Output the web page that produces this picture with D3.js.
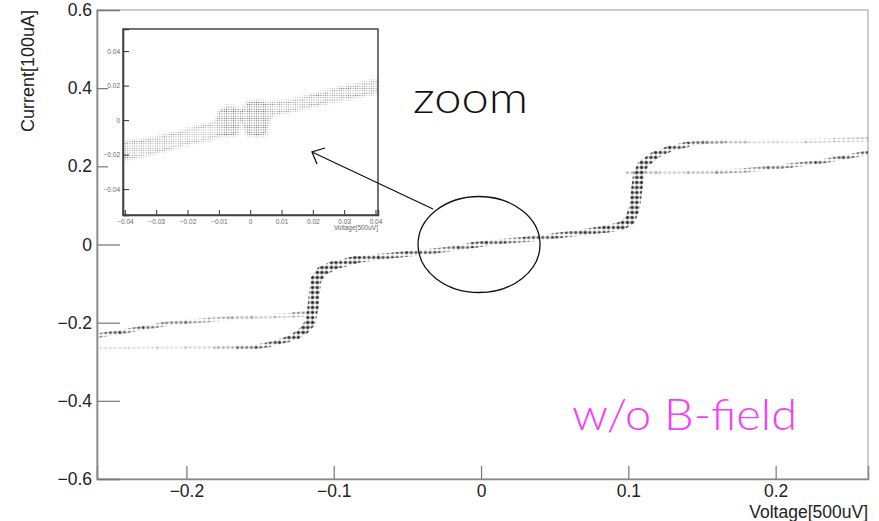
<!DOCTYPE html>
<html>
<head>
<meta charset="utf-8">
<script src="https://cdn.jsdelivr.net/npm/d3@7"></script>
<style>
  body { margin: 0; background: #fff; }
  svg { display: block; font-family: "Liberation Sans", Arial, sans-serif; }
</style>
</head>
<body>
<div id="chart"></div>
<script>
// --- 1. DATA ---
// main plot: each branch is [voltage, current, density, spread(voltage)]
const leftUpper = [
  [-0.2607, -0.233, 0.75, 0.003], [-0.245, -0.224, 0.75, 0.003], [-0.23, -0.214, 0.7, 0.003],
  [-0.215, -0.204, 0.6, 0.003], [-0.2, -0.198, 0.5, 0.003], [-0.185, -0.193, 0.45, 0.003],
  [-0.17, -0.189, 0.35, 0.003], [-0.155, -0.186, 0.25, 0.003], [-0.14, -0.183, 0.2, 0.003],
  [-0.128, -0.18, 0.35, 0.003], [-0.117, -0.177, 0.6, 0.004]
];
const leftLower = [
  [-0.2607, -0.268, 0.15, 0.003], [-0.24, -0.267, 0.15, 0.003], [-0.22, -0.266, 0.12, 0.003],
  [-0.2, -0.265, 0.12, 0.003], [-0.18, -0.265, 0.2, 0.003], [-0.165, -0.264, 0.45, 0.003],
  [-0.153, -0.262, 0.7, 0.003], [-0.145, -0.257, 0.8, 0.0035], [-0.138, -0.25, 0.85, 0.0035],
  [-0.131, -0.242, 0.9, 0.004], [-0.125, -0.232, 0.95, 0.005], [-0.12, -0.218, 1, 0.006],
  [-0.116, -0.2, 1, 0.007]
];
const centreBranch = [
  [-0.116, -0.2, 1, 0.007], [-0.114, -0.16, 1, 0.0075], [-0.113, -0.12, 1, 0.0075],
  [-0.112, -0.09, 1, 0.0075], [-0.108, -0.068, 1, 0.007], [-0.1, -0.054, 0.95, 0.006],
  [-0.085, -0.039, 0.9, 0.005], [-0.07, -0.032, 0.85, 0.004], [-0.05, -0.024, 0.8, 0.004],
  [-0.03, -0.016, 0.75, 0.0035], [-0.015, -0.008, 0.6, 0.0035], [-0.006, -0.002, 0.85, 0.004],
  [0.003, 0.003, 0.85, 0.004], [0.015, 0.008, 0.7, 0.0035], [0.03, 0.013, 0.75, 0.0035],
  [0.05, 0.022, 0.8, 0.004], [0.07, 0.031, 0.85, 0.004], [0.085, 0.04, 0.9, 0.005],
  [0.095, 0.047, 0.95, 0.006], [0.101, 0.062, 1, 0.007], [0.104, 0.09, 1, 0.0075],
  [0.105, 0.12, 1, 0.0075], [0.106, 0.15, 1, 0.0075], [0.107, 0.18, 1, 0.0075],
  [0.11, 0.205, 1, 0.007]
];
const rightUpper = [
  [0.11, 0.205, 1, 0.007], [0.118, 0.228, 0.95, 0.005], [0.128, 0.245, 0.9, 0.004],
  [0.14, 0.256, 0.8, 0.0035], [0.152, 0.262, 0.6, 0.003], [0.165, 0.264, 0.4, 0.003],
  [0.18, 0.264, 0.2, 0.003], [0.2, 0.264, 0.12, 0.003], [0.22, 0.265, 0.15, 0.003],
  [0.24, 0.267, 0.3, 0.003], [0.2627, 0.269, 0.4, 0.003]
];
const rightLower = [
  [0.099, 0.182, 0.4, 0.003], [0.12, 0.183, 0.2, 0.003], [0.14, 0.184, 0.2, 0.003],
  [0.16, 0.186, 0.35, 0.003], [0.18, 0.19, 0.5, 0.003], [0.194, 0.195, 0.6, 0.003],
  [0.21, 0.202, 0.65, 0.003], [0.228, 0.21, 0.7, 0.003], [0.245, 0.222, 0.75, 0.003],
  [0.2627, 0.235, 0.8, 0.003]
];
const branches = [leftLower, leftUpper, centreBranch, rightUpper, rightLower];

// inset: [voltage, current low, current high, density]
const insetBand = [
  [-0.0406, -0.023, -0.013, 0.5], [-0.035, -0.021, -0.0115, 0.55], [-0.03, -0.019, -0.01, 0.55],
  [-0.025, -0.0165, -0.008, 0.5], [-0.02, -0.014, -0.0055, 0.45], [-0.015, -0.012, -0.003, 0.45],
  [-0.011, -0.01, -0.001, 0.45], [-0.0095, -0.009, 0.006, 0.7], [-0.007, -0.009, 0.008, 0.85],
  [-0.004, -0.008, 0.007, 0.8], [-0.003, 0.0, 0.005, 0.5], [-0.001, -0.008, 0.01, 0.75],
  [0.002, -0.009, 0.011, 0.85], [0.005, -0.008, 0.01, 0.8], [0.0065, 0.002, 0.01, 0.55],
  [0.01, 0.004, 0.0105, 0.5], [0.015, 0.006, 0.012, 0.5], [0.02, 0.008, 0.0145, 0.55],
  [0.025, 0.0105, 0.017, 0.55], [0.03, 0.012, 0.019, 0.55], [0.035, 0.014, 0.021, 0.6],
  [0.0408, 0.016, 0.023, 0.6]
];

const xTicks = [-0.2, -0.1, 0, 0.1, 0.2];
const yTicks = [-0.6, -0.4, -0.2, 0, 0.2, 0.4, 0.6];
const insetXTicks = [-0.04, -0.03, -0.02, -0.01, 0, 0.01, 0.02, 0.03, 0.04];
const insetYTicks = [-0.04, -0.02, 0, 0.02, 0.04];
const xTitle = "Voltage[500uV]";
const yTitle = "Current[100uA]";

// --- 2. SETUP ---
const W = 879, H = 521;
const svg = d3.select("#chart").append("svg").attr("width", W).attr("height", H);
const fmt = d => (d < 0 ? "\u2212" : "") + d3.format("")(Math.abs(+d.toFixed(3)));

const defs = svg.append("defs");
const dotPat = defs.append("pattern").attr("id", "dots")
  .attr("patternUnits", "userSpaceOnUse").attr("width", 4.7).attr("height", 5);
dotPat.append("circle").attr("cx", 2.35).attr("cy", 2.5).attr("r", 2).attr("fill", "#999");
dotPat.append("circle").attr("cx", 2.35).attr("cy", 2.5).attr("r", 1.2).attr("fill", "#222");
const finePat = defs.append("pattern").attr("id", "fine")
  .attr("patternUnits", "userSpaceOnUse").attr("width", 2.3).attr("height", 2.3);
finePat.append("circle").attr("cx", 1.15).attr("cy", 1.15).attr("r", 0.6).attr("fill", "#333");

// --- 3. MAIN SCALES & AXES ---
const x = d3.scaleLinear().domain([-0.2607, 0.2627]).range([97, 868]);
const y = d3.scaleLinear().domain([-0.6, 0.6]).range([479, 10]);

// frame
svg.append("rect").attr("x", 97).attr("y", 10).attr("width", 771).attr("height", 469)
  .attr("fill", "none").attr("stroke", "#999").attr("stroke-width", 1);

const xMinor = d3.range(-0.26, 0.2627, 0.02).filter(v => !xTicks.some(t => Math.abs(t - v) < 1e-6));
const yMinor = d3.range(-0.55, 0.6, 0.05).filter(v => !yTicks.some(t => Math.abs(t - v) < 1e-6));

const gx = svg.append("g").attr("transform", "translate(0,479)");
gx.call(d3.axisBottom(x).tickValues(xMinor).tickSize(-7).tickFormat(""));
gx.call(d3.axisBottom(x).tickValues(xTicks).tickSize(-13).tickPadding(6).tickFormat(fmt));
const gy = svg.append("g").attr("transform", "translate(97,0)");
gy.call(d3.axisLeft(y).tickValues(yMinor).tickSize(-13).tickFormat(""));
gy.call(d3.axisLeft(y).tickValues(yTicks).tickSize(-23).tickPadding(5).tickFormat(fmt));
svg.selectAll(".domain").attr("stroke", "#888").attr("stroke-width", 1.6);
svg.selectAll(".tick line").attr("stroke", "#777").attr("stroke-width", 1.2);
svg.selectAll(".tick text").attr("fill", "#222").style("font-size", "17.5px")
  .style("font-family", "Liberation Sans, Arial, sans-serif");

svg.append("text").attr("x", 868).attr("y", 518).attr("text-anchor", "end")
  .style("font-size", "17.5px").attr("fill", "#222").text(xTitle);
svg.append("text").attr("transform", "translate(34,10) rotate(-90)").attr("text-anchor", "end")
  .style("font-size", "18px").attr("fill", "#222").text(yTitle);

// --- 4. MAIN DATA (dotted bands) ---
const clipM = defs.append("clipPath").attr("id", "clipM");
clipM.append("rect").attr("x", 98).attr("y", 10).attr("width", 770).attr("height", 468);
const gData = svg.append("g").attr("clip-path", "url(#clipM)");
const pxPerV = x(1) - x(0);
const segLine = d3.line().x(d => x(d[0])).y(d => y(d[1]));
branches.forEach(br => {
  for (let j = 0; j < br.length - 1; j++) {
    const a = br[j], b = br[j + 1];
    gData.append("path")
      .attr("d", segLine([a, b]))
      .attr("fill", "none")
      .attr("stroke", "url(#dots)")
      .attr("stroke-width", ((a[3] + b[3]) / 2) * pxPerV)
      .attr("stroke-linecap", "round")
      .attr("opacity", (a[2] + b[2]) / 2);
  }
});

// --- 5. INSET ---
const ix = d3.scaleLinear().domain([-0.0406, 0.0408]).range([123, 378]);
const iy = d3.scaleLinear().domain([-0.055, 0.0528]).range([215, 29]);
const gi = svg.append("g");
gi.append("rect").attr("x", 108).attr("y", 14).attr("width", 284).attr("height", 218).attr("fill", "#fff");

const bandArea = d3.area().x(d => ix(d[0])).y0(d => iy(d[1])).y1(d => iy(d[2]));
for (let j = 0; j < insetBand.length - 1; j++) {
  const a = insetBand[j], b = insetBand[j + 1];
  gi.append("path").attr("d", bandArea([a, b]))
    .attr("fill", "url(#fine)").attr("opacity", (a[3] + b[3]) / 2);
}
// soft edges of the scatter band
[1, 2].forEach(k => {
  gi.append("path")
    .attr("d", d3.line().x(d => ix(d[0])).y(d => iy(d[k])).curve(d3.curveMonotoneX)(insetBand))
    .attr("fill", "none").attr("stroke", "url(#fine)").attr("stroke-width", 5).attr("opacity", 0.3);
});

const ixMinor = d3.range(-0.04, 0.0405, 0.002).filter(v => !insetXTicks.some(t => Math.abs(t - v) < 1e-6));
const iyMinor = d3.range(-0.055, 0.053, 0.005).filter(v => !insetYTicks.some(t => Math.abs(t - v) < 1e-6));
const gix = gi.append("g").attr("transform", "translate(0,215)");
gix.call(d3.axisBottom(ix).tickValues(ixMinor).tickSize(-2.5).tickFormat(""));
gix.call(d3.axisBottom(ix).tickValues(insetXTicks).tickSize(-5).tickPadding(4).tickFormat(fmt));
const giy = gi.append("g").attr("transform", "translate(123,0)");
giy.call(d3.axisLeft(iy).tickValues(iyMinor).tickSize(-3).tickFormat(""));
giy.call(d3.axisLeft(iy).tickValues(insetYTicks).tickSize(-6).tickPadding(3).tickFormat(fmt));
gi.selectAll(".domain").attr("stroke", "#333").attr("stroke-width", 1.5);
gi.selectAll(".tick line").attr("stroke", "#333").attr("stroke-width", 1);
gi.selectAll(".tick text").attr("fill", "#666").style("font-size", "6.5px");
gi.append("rect").attr("x", 123).attr("y", 29).attr("width", 255).attr("height", 186)
  .attr("fill", "none").attr("stroke", "#444").attr("stroke-width", 1.5);
gi.append("text").attr("x", 378).attr("y", 230).attr("text-anchor", "end")
  .style("font-size", "6.5px").attr("fill", "#666").text(xTitle);

// --- 6. ANNOTATIONS ---
svg.append("ellipse").attr("cx", x(0) - 2).attr("cy", y(0)).attr("rx", 61).attr("ry", 48)
  .attr("fill", "none").attr("stroke", "#111").attr("stroke-width", 1.3);
svg.append("path").attr("d", "M433,209 L312,152 M325,148 L312,152 L317,164")
  .attr("fill", "none").attr("stroke", "#111").attr("stroke-width", 1.3);
svg.append("text").attr("x", 413).attr("y", 113)
  .attr("textLength", 115).attr("lengthAdjust", "spacingAndGlyphs")
  .style("font-family", "Lato, 'DejaVu Sans', sans-serif").style("font-weight", 300)
  .style("font-size", "43px").attr("fill", "#111").text("zoom");
svg.append("text").attr("x", 572).attr("y", 430)
  .attr("textLength", 225).attr("lengthAdjust", "spacingAndGlyphs")
  .style("font-family", "Lato, 'DejaVu Sans', sans-serif").style("font-weight", 300)
  .style("font-size", "44px").attr("fill", "#f53ff5").text("w/o B-field");
</script>
</body>
</html>
